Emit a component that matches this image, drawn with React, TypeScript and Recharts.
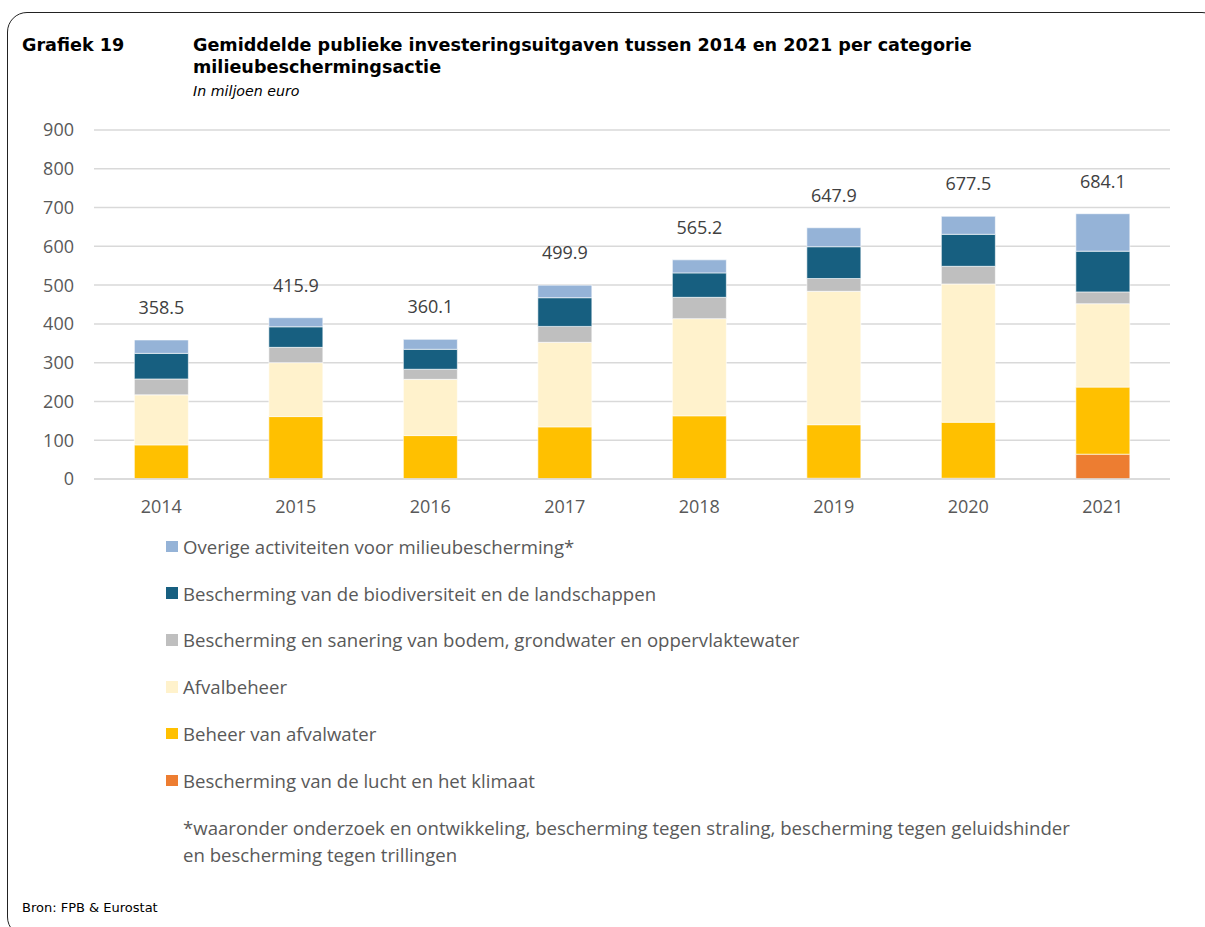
import { BarChart, Bar, XAxis, YAxis, CartesianGrid, LabelList } from "recharts";

// Jaren en totalen (in miljoen euro)
const jaren = ["2014", "2015", "2016", "2017", "2018", "2019", "2020", "2021"];
const totalen = [358.5, 415.9, 360.1, 499.9, 565.2, 647.9, 677.5, 684.1];

// Series, van onder naar boven gestapeld
const luchtKlimaat = [0.5, 0.5, 0.5, 0.5, 0.5, 2, 2, 64];
const afvalwater = [87.5, 160.5, 111.5, 134, 162.5, 138, 144.5, 173];
const afvalbeheer = [129, 139, 145, 218, 250.5, 344, 356.5, 215];
const bodemWater = [41, 39.5, 26, 41, 55, 33, 45.5, 30.5];
const biodiversiteit = [66, 53, 51.5, 74, 63, 82, 82.5, 105];
const overige = [34.5, 23.4, 25.6, 32.4, 33.7, 48.9, 46.5, 96.6];

const yTicks = [0, 100, 200, 300, 400, 500, 600, 700, 800, 900];

const series = [
  { key: "lucht", name: "Bescherming van de lucht en het klimaat", values: luchtKlimaat, color: "#ED7D31" },
  { key: "afvalwater", name: "Beheer van afvalwater", values: afvalwater, color: "#FFC000" },
  { key: "afvalbeheer", name: "Afvalbeheer", values: afvalbeheer, color: "#FFF2CC" },
  { key: "bodem", name: "Bescherming en sanering van bodem, grondwater en oppervlaktewater", values: bodemWater, color: "#BFBFBF" },
  { key: "bio", name: "Bescherming van de biodiversiteit en de landschappen", values: biodiversiteit, color: "#175F80" },
  { key: "overige", name: "Overige activiteiten voor milieubescherming*", values: overige, color: "#95B3D7" },
];

const data = jaren.map((jaar, i) => {
  const row: any = { jaar };
  series.forEach((s) => {
    row[s.key] = s.values[i];
  });
  return row;
});

const chartFont = "'Open Sans', sans-serif";
const titleFont = "'DejaVu Sans', Verdana, sans-serif";

const TotalLabel = (props: any) => {
  const { x, y, width, index } = props;
  return (
    <text
      x={x + width / 2}
      y={y - 31}
      textAnchor="middle"
      dominantBaseline="middle"
      fontSize={18}
      fontFamily={chartFont}
      fill="#404040"
    >
      {totalen[index].toFixed(1)}
    </text>
  );
};

export default function App() {
  const legendItems = [...series].reverse();
  return (
    <div
      style={{
        position: "fixed",
        left: 0,
        top: 0,
        width: 1205,
        height: 927,
        overflow: "hidden",
        background: "#fff",
      }}
    >
      {/* kader */}
      <div
        style={{
          position: "absolute",
          left: 7,
          top: 12,
          width: 1215,
          height: 925,
          border: "1.5px solid #222",
          borderRadius: 20,
          boxSizing: "border-box",
        }}
      />

      <div style={{ position: "absolute", left: 22, top: 35, fontFamily: titleFont, fontWeight: "bold", fontSize: 17.6, color: "#000" }}>
        Grafiek 19
      </div>
      <div style={{ position: "absolute", left: 193, top: 34, fontFamily: titleFont, fontWeight: "bold", fontSize: 17.6, lineHeight: "22px", color: "#000" }}>
        Gemiddelde publieke investeringsuitgaven tussen 2014 en 2021 per categorie
        <br />
        milieubeschermingsactie
      </div>
      <div style={{ position: "absolute", left: 193, top: 83, fontFamily: titleFont, fontStyle: "italic", fontSize: 14.2, color: "#000" }}>
        In miljoen euro
      </div>

      <div style={{ position: "absolute", left: 0, top: 100 }}>
        <BarChart
          width={1200}
          height={420}
          data={data}
          margin={{ top: 30, right: 30, bottom: 11, left: 0 }}
          barCategoryGap="30%"
        >
          <CartesianGrid vertical={false} stroke="#D9D9D9" strokeWidth={1.5} />
          <XAxis
            dataKey="jaar"
            height={30}
            tickLine={false}
            axisLine={{ stroke: "#D9D9D9", strokeWidth: 1.5 }}
            tick={{ fontSize: 18, fontFamily: chartFont, fill: "#595959" }}
            tickMargin={15}
          />
          <YAxis
            width={94}
            domain={[0, 900]}
            ticks={yTicks}
            tickLine={false}
            axisLine={false}
            tick={{ fontSize: 18, fontFamily: chartFont, fill: "#595959" }}
            tickMargin={14}
          />
          {series.map((s, i) => (
            <Bar
              key={s.key}
              dataKey={s.key}
              name={s.name}
              stackId="a"
              fill={s.color}
              stroke="#ffffff"
              strokeWidth={0.6}
              isAnimationActive={false}
            >
              {i === series.length - 1 && <LabelList dataKey={s.key} content={<TotalLabel />} />}
            </Bar>
          ))}
        </BarChart>
      </div>

      {/* legende */}
      <div style={{ position: "absolute", left: 166, top: 523, fontFamily: chartFont, fontSize: 18.6, color: "#595959" }}>
        {legendItems.map((s) => (
          <div key={s.key} style={{ display: "flex", alignItems: "center", height: 46.8 }}>
            <span style={{ display: "inline-block", width: 11.5, height: 11.5, background: s.color, marginRight: 5.5 }} />
            <span>{s.name}</span>
          </div>
        ))}
      </div>

      <div style={{ position: "absolute", left: 183, top: 814, fontFamily: chartFont, fontSize: 18.6, lineHeight: "27px", color: "#595959" }}>
        *waaronder onderzoek en ontwikkeling, bescherming tegen straling, bescherming tegen geluidshinder
        <br />
        en bescherming tegen trillingen
      </div>

      <div style={{ position: "absolute", left: 22, top: 900, fontFamily: titleFont, fontSize: 13, color: "#000" }}>
        Bron: FPB &amp; Eurostat
      </div>
    </div>
  );
}
